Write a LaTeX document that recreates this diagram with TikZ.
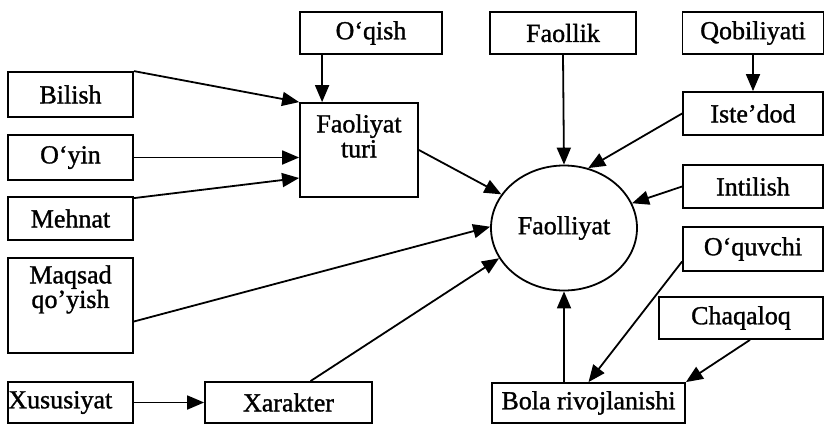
\documentclass[tikz,border=0pt]{standalone}
\usepackage{fontspec}
\setmainfont{Liberation Serif}[FakeBold=1.2]
\usetikzlibrary{arrows.meta,calc,shapes.geometric}
\tikzset{
  box/.style={draw, line width=1.8pt, rectangle, inner sep=0pt, font=\fontsize{26}{28}\selectfont},
  txt/.style={inner sep=0pt, align=center},
  conn/.style={line width=1.8pt, -{Triangle[length=17pt,width=14pt]}},
}
\begin{document}
\begin{tikzpicture}[x=1pt,y=-1pt]
\useasboundingbox[fill=white] (0,0) rectangle (827,426);
% top row
\node[box, minimum width=142pt, minimum height=42pt] (oqish) at (371,33) {O‘qish};
\node[box, minimum width=146pt, minimum height=42pt] (faollik) at (563,33) {Faollik};
\node[box, minimum width=141pt, minimum height=42pt] (qobil) at (753,33) {Qobiliyati};
% right column
\node[box, minimum width=140pt, minimum height=43pt] (istedod) at (753,113.5) {Iste’dod};
\node[box, minimum width=140pt, minimum height=43pt] (intilish) at (753,186.5) {Intilish};
\node[box, minimum width=140pt, minimum height=44pt] (oquvchi) at (753,249) {O‘quvchi};
\node[box, minimum width=164pt, minimum height=42pt] (chaqaloq) at (741,318) {Chaqaloq};
% left column
\node[box, minimum width=125pt, minimum height=45pt] (bilish) at (70.5,94.5) {Bilish};
\node[box, minimum width=125pt, minimum height=45pt] (oyin) at (70.5,157.5) {O‘yin};
\node[box, minimum width=125pt, minimum height=43pt] (mehnat) at (70.5,218.5) {Mehnat};
\node[box, minimum width=125pt, minimum height=95pt] (maqsad) at (70.5,305.5) {};
\node[txt, anchor=north, font=\fontsize{26}{20}\selectfont] (maqsadt) at ($(maqsad.north)+(0,8)$) {Maqsad\\qo’yish};
\node[box, minimum width=125pt, minimum height=41pt] (xusus) at (70.5,402.5) {};
\node[txt, anchor=west, font=\fontsize{26}{28}\selectfont] (xusust) at ($(xusus.west)+(1,0)$) {Xususiyat};
% middle
\node[box, minimum width=118pt, minimum height=94pt] (ft) at (359,150) {};
\node[txt, anchor=north, font=\fontsize{26}{25}\selectfont] (ftt) at ($(ft.north)+(0,12)$) {Faoliyat\\turi};
\node[box, minimum width=167pt, minimum height=41pt] (xarakter) at (288.5,402.5) {Xarakter};
\node[box, minimum width=193pt, minimum height=40pt] (bola) at (588.5,403) {Bola rivojlanishi};
\node[draw, line width=1.8pt, ellipse, minimum width=146pt, minimum height=125pt, inner sep=0pt, font=\fontsize{26}{28}\selectfont] (f) at (564,228) {Faolliyat};
% connectors
\draw[conn] ($(oqish.south west)+(23,0)$) coordinate (oq1) -- (oq1 |- ft.north);
\draw[conn] (bilish.north east) -- (ft.north west);
\draw[conn] (oyin.east) -- (oyin.east -| ft.west);
\draw[conn] ($(mehnat.north east)+(0,2)$) -- ($(ft.west)+(0,28)$);
\draw[conn] (ft.east) -- (f);
\draw[conn] ($(maqsad.east)+(0,16)$) -- (f.179);
\draw[conn] ($(xarakter.north)+(22,0)$) -- (f.205);
\draw[conn] (xusus.east) -- (xarakter.west);
\draw[conn] (faollik.south) -- (f.north);
\draw[conn] (qobil.south) -- (istedod.north);
\draw[conn] (istedod.west) -- (f.68);
\draw[conn] (intilish.west) -- (f.20);
\draw[conn] (oquvchi.190) -- (bola.north);
\draw[conn] ($(chaqaloq.south)+(9,0)$) -- (bola.north east);
\draw[conn] (f.south |- bola.north) -- (f.south);
\end{tikzpicture}
\end{document}
